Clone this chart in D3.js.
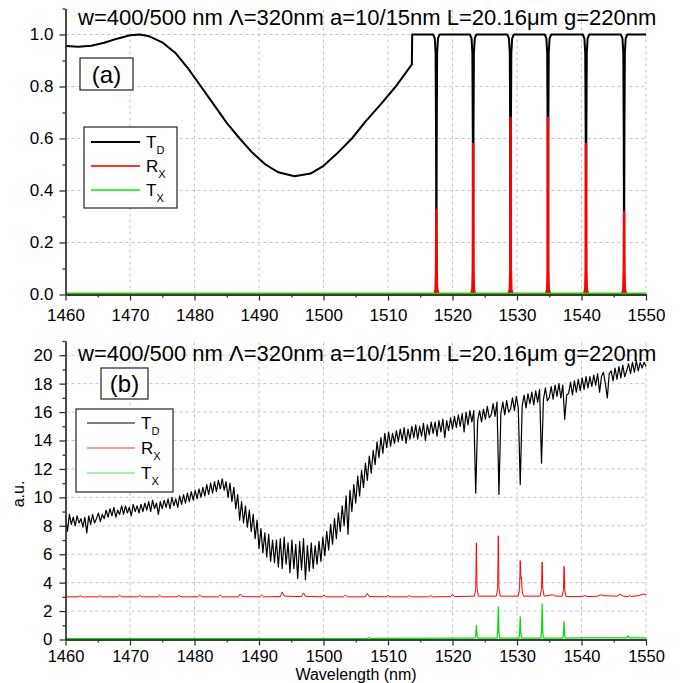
<!DOCTYPE html>
<html lang="en">
<head>
<meta charset="UTF-8"/>
<title>Drop filter spectra</title>
<script src="https://d3js.org/d3.v7.min.js"></script>
<style>
body { margin: 0; background: #fff; }
svg text { font-family: "Liberation Sans", Arial, sans-serif; }
</style>
</head>
<body>
<script>
// ---------- data ----------
var xTicks = [1460, 1470, 1480, 1490, 1500, 1510, 1520, 1530, 1540, 1550];
var xMinor = [1465, 1475, 1485, 1495, 1505, 1515, 1525, 1535, 1545];
var yTicksA = [0, 0.2, 0.4, 0.6, 0.8, 1.0];
var yMinorA = [0.1, 0.3, 0.5, 0.7, 0.9, 1.1];
var yTicksB = [0, 2, 4, 6, 8, 10, 12, 14, 16, 18, 20];
var yMinorB = [1, 3, 5, 7, 9, 11, 13, 15, 17, 19, 21];
var titleText = "w=400/500 nm \u039B=320nm a=10/15nm L=20.16\u03BCm g=220nm";

// (a) simulated drop transmission T_D
var tdA = [
  [1460, 0.956], [1462, 0.953], [1464, 0.957], [1466, 0.968], [1468, 0.984], [1470, 0.997],
  [1471.5, 1.0], [1473, 0.993], [1475, 0.97], [1477, 0.93], [1479, 0.87], [1481, 0.8],
  [1483, 0.73], [1485, 0.66], [1487, 0.6], [1489, 0.545], [1491, 0.5], [1493, 0.47],
  [1495.5, 0.455], [1498, 0.465], [1500, 0.495], [1502, 0.54], [1504.4, 0.6], [1506.5, 0.665],
  [1509, 0.735], [1511.2, 0.8], [1513.7, 0.885], [1513.75, 1.0],
  [1517.0, 1.0], [1517.25, 0.985], [1517.38, 0.93], [1517.45, 0.6], [1517.5, 0], [1517.55, 0.6], [1517.62, 0.93], [1517.75, 0.985], [1518.0, 1.0],
  [1522.7, 1.0], [1522.95, 0.985], [1523.08, 0.93], [1523.15, 0.6], [1523.2, 0], [1523.25, 0.6], [1523.32, 0.93], [1523.45, 0.985], [1523.7, 1.0],
  [1528.5, 1.0], [1528.75, 0.985], [1528.88, 0.93], [1528.95, 0.6], [1529.0, 0], [1529.05, 0.6], [1529.12, 0.93], [1529.25, 0.985], [1529.5, 1.0],
  [1534.3, 1.0], [1534.55, 0.985], [1534.68, 0.93], [1534.75, 0.6], [1534.8, 0], [1534.85, 0.6], [1534.92, 0.93], [1535.05, 0.985], [1535.3, 1.0],
  [1540.2, 1.0], [1540.45, 0.985], [1540.58, 0.93], [1540.65, 0.6], [1540.7, 0], [1540.75, 0.6], [1540.82, 0.93], [1540.95, 0.985], [1541.2, 1.0],
  [1546.1, 1.0], [1546.35, 0.985], [1546.48, 0.93], [1546.55, 0.6], [1546.6, 0], [1546.65, 0.6], [1546.72, 0.93], [1546.85, 0.985], [1547.1, 1.0],
  [1550, 1.0]
];
// (a) cross reflection R_X
var rxA = [
  [1460, 0], [1517.15, 0], [1517.38, 0.02], [1517.45, 0.1], [1517.5, 0.325], [1517.55, 0.1], [1517.62, 0.02], [1517.85, 0],
  [1522.85, 0], [1523.08, 0.02], [1523.15, 0.1], [1523.2, 0.58], [1523.25, 0.1], [1523.32, 0.02], [1523.55, 0],
  [1528.65, 0], [1528.88, 0.02], [1528.95, 0.1], [1529.0, 0.68], [1529.05, 0.1], [1529.12, 0.02], [1529.35, 0],
  [1534.45, 0], [1534.68, 0.02], [1534.75, 0.1], [1534.8, 0.68], [1534.85, 0.1], [1534.92, 0.02], [1535.15, 0],
  [1540.35, 0], [1540.58, 0.02], [1540.65, 0.1], [1540.7, 0.58], [1540.75, 0.1], [1540.82, 0.02], [1541.05, 0],
  [1546.25, 0], [1546.48, 0.02], [1546.55, 0.1], [1546.6, 0.317], [1546.65, 0.1], [1546.72, 0.02], [1546.95, 0],
  [1550, 0]
];
// (a) cross transmission T_X
var txA = [[1460, 0.003], [1550, 0.003]];

// (b) measured T_D, one value every 0.3 nm from 1460 nm
var tdBStart = 1460, tdBStep = 0.3;
var tdB = [
  8.7, 7.6, 8.8, 8.1, 8.6, 8.0, 8.7, 8.2, 8.5, 7.9,
  8.6, 7.5, 8.7, 8.1, 8.8, 8.2, 8.5, 8.9, 8.3, 8.8,
  8.5, 9.1, 8.6, 9.2, 8.7, 9.3, 8.6, 9.1, 8.8, 9.4,
  8.8, 9.4, 8.9, 9.3, 8.7, 9.5, 9.0, 9.4, 8.9, 9.5,
  9.0, 9.6, 9.1, 9.7, 9.0, 9.8, 9.2, 9.6, 8.8, 9.7,
  9.2, 9.8, 9.3, 9.9, 9.2, 10.0, 9.4, 9.9, 9.3, 10.1,
  9.5, 10.2, 9.6, 10.3, 9.7, 10.4, 9.8, 10.5, 9.9, 10.6,
  10.0, 10.7, 10.1, 10.9, 10.2, 11.0, 10.3, 11.1, 10.4, 11.2,
  10.6, 11.3, 10.5, 11.1, 10.0, 11.0, 9.7, 10.7, 9.2, 10.2,
  8.4, 9.7, 8.2, 9.4, 7.9, 9.1, 7.6, 8.8, 7.1, 8.4,
  6.4, 7.8, 6.1, 7.5, 5.8, 7.4, 5.5, 7.0, 5.4, 7.0,
  5.1, 7.1, 5.0, 7.2, 5.3, 6.8, 4.7, 7.0, 5.0, 6.7,
  4.3, 6.9, 4.9, 7.1, 4.2, 6.6, 4.8, 6.8, 5.0, 6.6,
  5.3, 6.9, 5.5, 7.2, 5.9, 7.6, 6.3, 8.1, 6.7, 8.5,
  7.1, 8.9, 7.6, 9.4, 8.0, 10.1, 7.4, 10.5, 9.0, 10.9,
  9.6, 11.5, 10.1, 11.9, 10.7, 12.4, 11.2, 12.9, 11.7, 13.3,
  12.3, 13.9, 12.8, 14.2, 13.1, 14.5, 13.5, 14.6, 13.6, 14.5,
  13.8, 14.7, 13.9, 14.8, 14.0, 14.9, 13.8, 14.8, 14.1, 15.0,
  14.2, 15.1, 14.1, 15.0, 14.3, 15.2, 14.0, 15.1, 14.4, 15.3,
  14.5, 15.3, 14.3, 15.4, 14.6, 15.5, 14.2, 15.4, 14.7, 15.6,
  14.8, 15.7, 14.9, 15.8, 15.0, 15.9, 14.6, 16.0, 15.1, 16.1,
  15.3, 16.1, 10.3, 15.4, 16.1, 15.3, 16.2, 15.5, 16.4, 15.6,
  15.8, 16.6, 15.7, 16.7, 10.2, 15.9, 16.7, 15.8, 16.8, 16.0,
  16.2, 17.0, 16.1, 17.1, 16.3, 10.9, 16.4, 17.2, 16.3, 17.3,
  16.6, 17.4, 16.5, 17.5, 16.7, 17.6, 12.4, 16.9, 17.7, 16.8,
  17.0, 17.8, 16.9, 17.9, 17.1, 18.0, 17.0, 17.9, 15.5, 17.2,
  17.3, 18.1, 17.2, 18.2, 17.4, 18.3, 17.5, 18.4, 17.6, 18.5,
  17.7, 18.5, 17.8, 18.6, 17.9, 18.7, 17.4, 18.5, 18.8, 18.0,
  17.0, 18.7, 18.9, 18.2, 19.1, 18.3, 19.2, 18.4, 19.3, 18.5,
  18.9, 19.4, 18.7, 19.5, 18.8, 19.6, 18.9, 19.5, 19.1, 19.5,
  19.2
];
// (b) measured R_X
var rxB = [
  [1460, 3.0], [1462.0, 3.0], [1462.3, 3.08], [1462.6, 3.0], [1465.0, 3.0], [1465.3, 3.08], [1465.6, 3.0],
  [1468.1, 3.0], [1468.4, 3.1], [1468.7, 3.0], [1471.2, 3.0], [1471.5, 3.1], [1471.8, 3.0],
  [1474.3, 3.0], [1474.6, 3.1], [1474.9, 3.0], [1477.3, 3.0], [1477.6, 3.1], [1477.9, 3.0],
  [1480.5, 3.0], [1480.8, 3.12], [1481.1, 3.0], [1483.7, 3.0], [1484.0, 3.12], [1484.3, 3.0],
  [1486.8, 3.0], [1487.1, 3.2], [1487.4, 3.02], [1490.1, 3.0], [1490.4, 3.12], [1490.7, 3.0],
  [1493.3, 3.02], [1493.6, 3.35], [1493.9, 3.05], [1496.6, 3.02], [1496.9, 3.28], [1497.2, 3.04],
  [1499.8, 3.0], [1500.1, 3.12], [1500.4, 3.0], [1503.1, 3.0], [1503.4, 3.14], [1503.7, 3.0],
  [1506.5, 3.0], [1506.8, 3.25], [1507.1, 3.02], [1509.7, 3.0], [1510.0, 3.1], [1510.3, 3.0],
  [1513.0, 3.0], [1513.3, 3.1], [1513.6, 3.0], [1516.3, 3.0], [1516.6, 3.1], [1516.9, 3.0],
  [1519.7, 3.02], [1520.0, 3.18], [1520.3, 3.02],
  [1523.4, 3.05], [1523.6, 3.6], [1523.7, 6.8], [1523.8, 3.6], [1524.0, 3.05],
  [1526.8, 3.05], [1527.0, 3.6], [1527.1, 7.3], [1527.2, 3.6], [1527.4, 3.05],
  [1530.2, 3.05], [1530.4, 3.6], [1530.5, 5.55], [1530.6, 4.3], [1530.7, 4.4], [1530.8, 3.4], [1531.0, 3.05],
  [1533.6, 3.05], [1533.8, 3.6], [1533.9, 5.45], [1534.0, 3.6], [1534.2, 3.05],
  [1535.0, 3.1], [1535.5, 3.15], [1536.0, 3.05],
  [1537.0, 3.05], [1537.2, 3.5], [1537.3, 5.15], [1537.4, 3.5], [1537.6, 3.02],
  [1540.0, 3.02], [1540.5, 3.08], [1541.0, 3.02], [1542.5, 3.05], [1543.0, 3.15], [1543.5, 3.08],
  [1545.5, 3.05], [1546.0, 3.18], [1546.5, 3.05], [1547.3, 3.02], [1547.5, 3.1], [1547.7, 3.02],
  [1549.0, 3.1], [1549.6, 3.2], [1550, 3.15]
];
// (b) measured T_X
var txB = [
  [1460, 0.06], [1506.8, 0.07], [1507.0, 0.15], [1507.2, 0.08], [1520, 0.1],
  [1523.5, 0.1], [1523.6, 0.3], [1523.7, 1.0], [1523.8, 0.3], [1523.9, 0.1],
  [1526.9, 0.1], [1527.0, 0.5], [1527.1, 2.3], [1527.2, 0.5], [1527.3, 0.1],
  [1530.3, 0.1], [1530.4, 0.4], [1530.5, 1.6], [1530.6, 0.4], [1530.7, 0.1],
  [1533.7, 0.1], [1533.8, 0.5], [1533.9, 2.5], [1534.0, 0.5], [1534.1, 0.1],
  [1537.1, 0.1], [1537.2, 0.3], [1537.3, 1.27], [1537.4, 0.3], [1537.5, 0.1],
  [1540, 0.12], [1547.0, 0.12], [1547.2, 0.25], [1547.4, 0.12], [1550, 0.12]
];
var legendNames = [["T", "D"], ["R", "X"], ["T", "X"]];

// ---------- drawing ----------
var w = 686, h = 683;
var svg = d3.select("body").append("svg")
  .attr("width", w)
  .attr("height", h);

var x = d3.scaleLinear().domain([1460, 1550]).range([65.5, 646]);
var yA = d3.scaleLinear().domain([0, 1.1]).range([294.5, 8.5]);
var yB = d3.scaleLinear().domain([0, 21]).range([639.5, 341]);

function grid(y, yTicks) {
  var g = svg.append("g");
  g.selectAll("line.v")
    .data(xTicks.slice(1))
    .enter().append("line")
    .attr("x1", function(d) { return x(d); })
    .attr("x2", function(d) { return x(d); })
    .attr("y1", y.range()[0])
    .attr("y2", y.range()[1])
    .attr("stroke", "#c4c4c4")
    .attr("stroke-dasharray", "3,3");
  g.selectAll("line.h")
    .data(yTicks.slice(1))
    .enter().append("line")
    .attr("x1", x.range()[0])
    .attr("x2", x.range()[1])
    .attr("y1", function(d) { return y(d); })
    .attr("y2", function(d) { return y(d); })
    .attr("stroke", "#c4c4c4")
    .attr("stroke-dasharray", "3,3");
}

function axes(y, yTicks, yMinor, fmt, xPad, yPad, xfs) {
  var y0 = y.range()[0];
  var g = svg.append("g");
  var parts = [
    [d3.axisBottom(x).tickValues(xMinor).tickSize(3).tickFormat(""), "translate(0," + y0 + ")", xfs],
    [d3.axisBottom(x).tickValues(xTicks).tickSize(6).tickPadding(xPad).tickFormat(d3.format("d")), "translate(0," + y0 + ")", xfs],
    [d3.axisLeft(y).tickValues(yMinor).tickSize(3).tickFormat(""), "translate(" + x.range()[0] + ",0)", 17],
    [d3.axisLeft(y).tickValues(yTicks).tickSize(6).tickPadding(yPad).tickFormat(fmt), "translate(" + x.range()[0] + ",0)", 17]
  ];
  parts.forEach(function(p) {
    var a = g.append("g")
      .attr("transform", p[1])
      .call(p[0].tickSizeOuter(0));
    a.attr("font-size", p[2]).attr("font-family", null);
    a.selectAll("path, line").attr("stroke", "#333").attr("stroke-width", 1.3);
    a.selectAll("text").attr("fill", "#000");
  });
}

function series(data, y, color, width) {
  svg.append("path")
    .datum(data)
    .attr("fill", "none")
    .attr("stroke", color)
    .attr("stroke-width", width)
    .attr("stroke-linejoin", "round")
    .attr("d", d3.line()
      .x(function(d) { return x(d[0]); })
      .y(function(d) { return y(d[1]); }));
}

function legend(x0, y0, bw, bh, lx1, lx2, rows, colors, lw, fs, ss) {
  var g = svg.append("g");
  g.append("rect")
    .attr("x", x0).attr("y", y0).attr("width", bw).attr("height", bh)
    .attr("fill", "#fff").attr("stroke", "#333").attr("stroke-width", 1.3);
  legendNames.forEach(function(n, i) {
    g.append("line")
      .attr("x1", lx1).attr("x2", lx2)
      .attr("y1", rows[i]).attr("y2", rows[i])
      .attr("stroke", colors[i]).attr("stroke-width", lw);
    var t = g.append("text")
      .attr("x", lx2 + 6)
      .attr("y", rows[i] + 6)
      .attr("font-size", fs)
      .text(n[0]);
    t.append("tspan")
      .attr("dy", 6)
      .attr("font-size", ss)
      .text(n[1]);
  });
}

function label(txt, x0, y0, bw, bh, fs) {
  svg.append("rect")
    .attr("x", x0).attr("y", y0).attr("width", bw).attr("height", bh)
    .attr("fill", "#fff").attr("stroke", "#333").attr("stroke-width", 1.3);
  svg.append("text")
    .attr("x", x0 + bw / 2).attr("y", y0 + bh / 2 + fs * 0.36)
    .attr("text-anchor", "middle")
    .attr("font-size", fs)
    .text(txt);
}

// panel (a)
grid(yA, yTicksA);
series(tdA, yA, "#000", 2);
series(rxA, yA, "#ff0000", 2.4);
series(txA, yA, "#33cc00", 2.6);
axes(yA, yTicksA, yMinorA, d3.format(".1f"), 8, 6, 17);
svg.append("text").attr("x", 78).attr("y", 25).attr("font-size", 22).text(titleText);
label("(a)", 80, 58, 53, 32, 24);
legend(84, 127, 93, 81, 91, 140, [142, 166, 190], ["#000", "#ff3030", "#44ee44"], 2, 17, 11);

// panel (b)
var tdBPts = tdB.map(function(v, i) { return [tdBStart + i * tdBStep, v]; });
grid(yB, yTicksB);
series(tdBPts, yB, "#000", 1.2);
series(rxB, yB, "#ff0000", 1);
series(txB, yB, "#00e000", 1.2);
axes(yB, yTicksB, yMinorB, d3.format("d"), 4.5, 7, 16.5);
svg.append("text").attr("x", 78).attr("y", 361).attr("font-size", 22).text(titleText);
label("(b)", 101, 368, 47, 31, 24);
legend(76, 409, 97, 83, 87, 135, [423, 448, 473], ["#000", "#ff3030", "#44ee44"], 1.2, 17, 11);

svg.append("text")
  .attr("x", 356).attr("y", 679.6)
  .attr("text-anchor", "middle")
  .attr("font-size", 16)
  .text("Wavelength (nm)");
svg.append("text")
  .attr("transform", "translate(24,494) rotate(-90)")
  .attr("text-anchor", "middle")
  .attr("font-size", 16)
  .text("a.u.");
</script>
</body>
</html>
